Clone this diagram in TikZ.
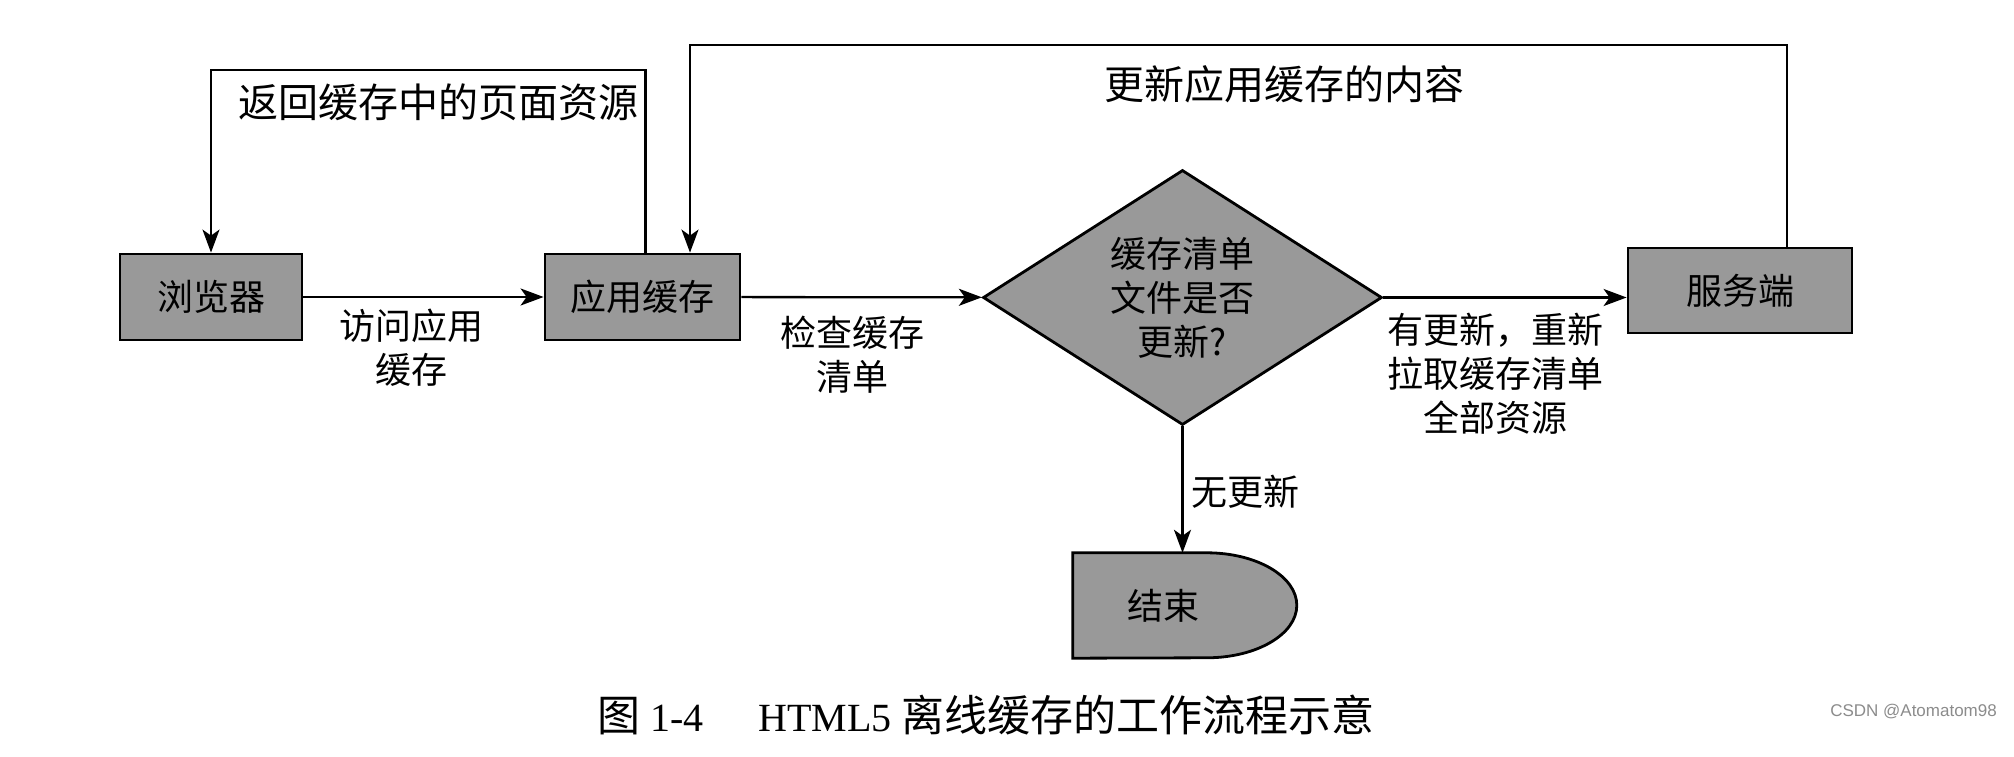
\documentclass[tikz,border=0pt]{standalone}
\usepackage{fontspec}
\setmainfont{Liberation Serif}
\newfontfamily\cjk{Noto Sans CJK SC}
\newfontfamily\wmfont{Liberation Sans}
\usetikzlibrary{shapes.geometric,arrows.meta,backgrounds}
\definecolor{boxgray}{gray}{0.6}
\begin{document}
\begin{tikzpicture}[x=1pt,y=1pt,
  box/.style={draw=black, line width=2.8pt, fill=boxgray, minimum width=#1,
    minimum height=86pt, inner sep=0pt, font=\cjk\fontsize{36}{44}\selectfont},
  dia/.style={diamond, draw=black, line width=2.8pt, fill=boxgray, aspect=1.565,
    inner sep=0pt, minimum width=399pt, minimum height=255pt, align=center,
    font=\cjk\fontsize{36}{44}\selectfont},
  endtxt/.style={minimum width=180pt, minimum height=105pt, inner sep=0pt,
    font=\cjk\fontsize{36}{44}\selectfont},
  lbl/.style={align=center, inner sep=0pt, font=\cjk\fontsize{36}{44}\selectfont},
  biglbl/.style={align=center, inner sep=0pt, font=\cjk\fontsize{40}{48}\selectfont},
  arr/.style={line width=2.3pt, -{Stealth[length=23pt,width=17pt,inset=6pt]}}]
\useasboundingbox (0,0) rectangle (2014,756);
\begin{scope}[on background layer]
\fill[white] (0,0) rectangle (2014,756);
\end{scope}

% nodes
\node[box=182pt] (browser) at (211,459) {浏览器};
\node[box=195pt] (app) at (642.5,459) {应用缓存};
\node[box=224pt, minimum height=85pt] (server) at (1740,465.5) {服务端};
\node[dia] (dia) at (1182.5,458.5) {缓存清单\\文件是否\\更新?};
\node[endtxt] (end) at (1163,150.5) {结束};
\begin{scope}[on background layer]
\draw[line width=2.8pt, fill=boxgray] (end.north west) -- ++(134,0)
  arc[start angle=90, end angle=-90, x radius=90, y radius=52.5]
  -- (end.south west) -- cycle;
\end{scope}

% helper coordinates
\coordinate (t1) at (0,686);
\coordinate (t2) at (0,711);
\coordinate (a1) at ([xshift=3pt]app.north);
\coordinate (a2) at ([xshift=47.5pt]app.north);
\coordinate (s1) at ([xshift=47pt]server.north);

% connectors
\draw[arr] (browser) -- (app);
\draw[arr] (app) -- (dia);
\draw[arr] (dia.east) -- (dia.east -| server.west);
\draw[arr] (dia.south) -- (dia.south |- end.north);
\draw[arr] (a1) |- (t1 -| browser.north) -- (browser.north);
\draw[arr] (s1) |- (t2 -| a2) -- (a2);

% labels
\node[lbl] (lvisit) at (411,408.5) {访问应用\\缓存};
\node[lbl] (lcheck) at (852,401.5) {检查缓存\\清单};
\node[lbl] (lupd) at (1495,382) {有更新，重新\\拉取缓存清单\\全部资源};
\node[lbl] (lno) at (1245,264) {无更新};
\node[biglbl] (lret) at (438,654) {返回缓存中的页面资源};
\node[biglbl] (lnew) at (1284,672) {更新应用缓存的内容};

% caption
\node[inner sep=0pt, font=\fontsize{40}{48}\selectfont] (cap) at (986,41)
  {{\cjk\fontsize{43}{48}\selectfont 图} 1-4\hspace{55pt}HTML5 {\cjk\fontsize{43}{48}\selectfont 离线缓存的工作流程示意}};
\node[anchor=east, inner sep=0pt, text=black!45, font=\wmfont\fontsize{17}{20}\selectfont]
  (wm) at (1997,44) {CSDN @Atomatom98};
\end{tikzpicture}
\end{document}
